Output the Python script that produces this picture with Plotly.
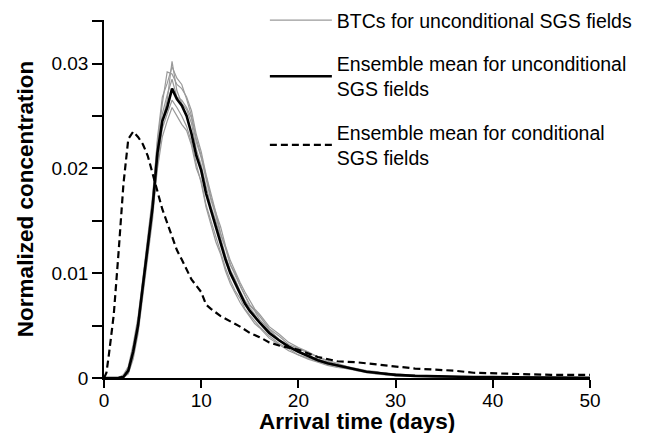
import plotly.graph_objects as go

# ---------------- data ----------------
t_days = [0, 0.5, 1, 1.5, 2, 2.5, 3, 3.5, 4, 4.5,
          5, 5.5, 6, 6.5, 7, 7.5, 8, 8.5, 9, 9.5,
          10, 10.5, 11, 11.5, 12, 12.5, 13, 13.5, 14, 14.5,
          15, 15.5, 16, 17, 18, 19, 20, 21, 22, 23,
          24, 25, 26, 27, 28, 29, 30, 32, 34, 36,
          38, 40, 42, 44, 46, 48, 50]

mean_uncond = [0, 0, 0, 0.00002, 0.0001, 0.0007, 0.0025, 0.0050, 0.0088, 0.0125,
               0.0163, 0.0215, 0.0245, 0.0258, 0.0276, 0.0266, 0.0260, 0.0250, 0.0233, 0.0212,
               0.0198, 0.0176, 0.0160, 0.0143, 0.0129, 0.0113, 0.0100, 0.0090, 0.0080, 0.0071,
               0.0064, 0.0058, 0.0053, 0.0043, 0.0036, 0.0030, 0.0025, 0.0021, 0.0017, 0.0014,
               0.0012, 0.0010, 0.0008, 0.0006, 0.0005, 0.0004, 0.0003, 0.0002, 0.00015, 0.0001,
               0.0001, 0.00008, 0.00006, 0.00005, 0.00004, 0.00003, 0.00003]

btc_1 = [0, 0, 0, 0.00003, 0.0002, 0.0009, 0.0028, 0.0054, 0.0092, 0.0130, 0.0170,
         0.0229, 0.0268, 0.0281, 0.0297, 0.0286, 0.0280, 0.0266, 0.0250, 0.0228, 0.0212,
         0.0193, 0.0172, 0.0158, 0.0138, 0.0124, 0.0108, 0.0100, 0.0088, 0.0079, 0.0070,
         0.0065, 0.0059, 0.0047, 0.0040, 0.0032, 0.0028, 0.0024, 0.0020, 0.0016, 0.0013,
         0.0011, 0.0007, 0.0007, 0.0004, 0.0005, 0.0002, 0.00025, 0.0001, 0.00012,
         0.00008, 0.0001, 0.00005, 0.00006, 0.00003, 0.00004, 0.00002]
btc_2 = [0, 0, 0, 0.00001, 0.0001, 0.0005, 0.0021, 0.0046, 0.0083, 0.0119, 0.0158,
         0.0200, 0.0230, 0.0245, 0.0258, 0.0250, 0.0242, 0.0236, 0.0222, 0.0200, 0.0188,
         0.0165, 0.0150, 0.0135, 0.0122, 0.0105, 0.0093, 0.0083, 0.0076, 0.0066, 0.0060,
         0.0054, 0.0049, 0.0040, 0.0033, 0.0028, 0.0022, 0.0019, 0.0016, 0.0013, 0.0011,
         0.0009, 0.0009, 0.0005, 0.0006, 0.0003, 0.0004, 0.00015, 0.0002, 0.00008,
         0.00012, 0.00006, 0.00007, 0.00004, 0.00005, 0.00002, 0.00004]
btc_3 = [0, 0, 0, 0.00004, 0.0003, 0.0011, 0.0032, 0.0058, 0.0095, 0.0134, 0.0174,
         0.0225, 0.0262, 0.0292, 0.0290, 0.0280, 0.0276, 0.0268, 0.0255, 0.0232, 0.0216,
         0.0194, 0.0176, 0.0158, 0.0144, 0.0126, 0.0112, 0.0101, 0.0091, 0.0082, 0.0074,
         0.0066, 0.0061, 0.0049, 0.0042, 0.0034, 0.0029, 0.0025, 0.0020, 0.0017, 0.0014,
         0.0011, 0.0009, 0.0007, 0.0006, 0.0004, 0.0004, 0.00025, 0.0002, 0.00012,
         0.00012, 0.0001, 0.00007, 0.00006, 0.00005, 0.00004, 0.00004]
btc_4 = [0, 0, 0, 0.00001, 0.00005, 0.0004, 0.0018, 0.0042, 0.0080, 0.0116, 0.0152,
         0.0205, 0.0238, 0.0252, 0.0265, 0.0258, 0.0250, 0.0240, 0.0225, 0.0204, 0.0186,
         0.0163, 0.0146, 0.0130, 0.0118, 0.0102, 0.0090, 0.0081, 0.0072, 0.0065, 0.0058,
         0.0052, 0.0048, 0.0038, 0.0032, 0.0026, 0.0022, 0.0018, 0.0015, 0.0012, 0.0010,
         0.0009, 0.0007, 0.0005, 0.0004, 0.0003, 0.0002, 0.00015, 0.0001, 0.00008,
         0.00008, 0.00005, 0.00005, 0.00003, 0.00003, 0.00002, 0.00002]
btc_5 = [0, 0, 0, 0.00002, 0.00015, 0.0008, 0.0026, 0.0051, 0.0090, 0.0127, 0.0167,
         0.0218, 0.0252, 0.0270, 0.0285, 0.0268, 0.0265, 0.0258, 0.0248, 0.0225, 0.0210,
         0.0190, 0.0170, 0.0155, 0.0137, 0.0125, 0.0108, 0.0098, 0.0088, 0.0078, 0.0069,
         0.0064, 0.0056, 0.0046, 0.0037, 0.0031, 0.0026, 0.0021, 0.0018, 0.0015, 0.0012,
         0.0010, 0.0008, 0.0006, 0.0005, 0.0004, 0.0003, 0.0002, 0.00013, 0.0001,
         0.00009, 0.00006, 0.00005, 0.00004, 0.00003, 0.00003, 0.00003]
btc_6 = [0, 0, 0, 0.00002, 0.0001, 0.0007, 0.0024, 0.0049, 0.0086, 0.0123, 0.0160,
         0.0212, 0.0245, 0.0265, 0.0302, 0.0274, 0.0262, 0.0256, 0.0243, 0.0218, 0.0203,
         0.0183, 0.0164, 0.0150, 0.0133, 0.0117, 0.0103, 0.0094, 0.0083, 0.0074, 0.0067,
         0.0061, 0.0053, 0.0044, 0.0036, 0.0029, 0.0025, 0.0022, 0.0017, 0.0014, 0.0012,
         0.0010, 0.0008, 0.0006, 0.0005, 0.0004, 0.0003, 0.0002, 0.00015, 0.0001,
         0.0001, 0.00008, 0.00006, 0.00005, 0.00004, 0.00003, 0.00003]
btc_series = [btc_1, btc_2, btc_3, btc_4, btc_5, btc_6]

t_cond = [0, 0.25, 0.5, 1, 1.5, 2, 2.5, 3, 3.5, 4,
          4.5, 5, 5.5, 6, 6.5, 7, 7.5, 8, 8.5, 9,
          9.5, 10, 10.5, 11, 12, 13, 14, 15, 16, 17,
          18, 19, 20, 22, 24, 26, 28, 30, 32, 34,
          36, 38, 40, 42, 44, 46, 48, 50]
mean_cond = [0, 0.0005, 0.0022, 0.0060, 0.0120, 0.0185, 0.0228, 0.0235, 0.0230, 0.0223,
             0.0212, 0.0195, 0.0177, 0.0161, 0.0148, 0.0135, 0.0122, 0.0113, 0.0104, 0.0094,
             0.0088, 0.0082, 0.0070, 0.0066, 0.0059, 0.0054, 0.0049, 0.0043, 0.0039, 0.0034,
             0.0031, 0.0029, 0.0027, 0.0020, 0.0016, 0.0015, 0.0013, 0.0011, 0.0009, 0.0008,
             0.0007, 0.0005, 0.00044, 0.0004, 0.00035, 0.0003, 0.0003, 0.0003]

legend_names = ["BTCs for unconditional SGS fields",
                "Ensemble mean for unconditional<br>SGS fields",
                "Ensemble mean for conditional<br>SGS fields"]

y_tick_vals = [0, 0.01, 0.02, 0.03]
y_tick_text = ["0", "0.01", "0.02", "0.03"]
y_minor_vals = [0.005, 0.015, 0.025, 0.0341]
x_tick_vals = [0, 10, 20, 30, 40, 50]

for s in btc_series:
    assert len(s) == len(t_days)
assert len(mean_uncond) == len(t_days)
assert len(mean_cond) == len(t_cond)

# ---------------- figure ----------------
FONT = "Liberation Sans, Arial, sans-serif"
fig = go.Figure()

for i, s in enumerate(btc_series):
    fig.add_trace(go.Scatter(
        x=t_days, y=s, mode="lines",
        line=dict(color="#9a9a9a", width=1.2),
        name=legend_names[0], legendgroup="g1",
        showlegend=(i == 0), hoverinfo="skip"))

fig.add_trace(go.Scatter(
    x=t_days, y=mean_uncond, mode="lines",
    line=dict(color="black", width=2.6),
    name=legend_names[1], legendgroup="g2"))

fig.add_trace(go.Scatter(
    x=t_cond, y=mean_cond, mode="lines",
    line=dict(color="black", width=2.2, dash="7px,4px"),
    name=legend_names[2], legendgroup="g3"))

fig.update_layout(
    width=660, height=433,
    margin=dict(l=104, r=70, t=20, b=55, autoexpand=False),
    paper_bgcolor="white", plot_bgcolor="white",
    font=dict(family=FONT, size=19, color="black"),
    legend=dict(
        x=0.331, y=1.0531, xanchor="left", yanchor="top",
        bgcolor="rgba(0,0,0,0)", font=dict(size=19.5),
        tracegroupgap=15, traceorder="grouped", itemwidth=62),
    xaxis=dict(
        range=[0, 50], showline=True, linecolor="black", linewidth=1.5,
        ticks="outside", ticklen=8, tickwidth=1.5, tickcolor="black",
        tickmode="array", tickvals=x_tick_vals, ticklabelstandoff=-4,
        showgrid=False, zeroline=False,
    ),
    yaxis=dict(
        range=[0, 0.03415], showline=True, linecolor="black", linewidth=1.5,
        ticks="outside", ticklen=10, tickwidth=1.5, tickcolor="black",
        tickmode="array", tickvals=y_tick_vals, ticktext=y_tick_text,
        minor=dict(tickmode="array", tickvals=y_minor_vals, ticks="outside",
                   ticklen=10, tickwidth=1.5, tickcolor="black", showgrid=False),
        showgrid=False, zeroline=False,
        title=dict(text="<b>Normalized concentration</b>", font=dict(size=22.5), standoff=12),
    ),
    annotations=[dict(
        text="<b>Arrival time (days)</b>", xref="paper", yref="paper",
        x=0.5206, y=0, yshift=-43, xanchor="center", yanchor="middle",
        showarrow=False, font=dict(size=22.5))],
)

fig.write_html("out.html")
